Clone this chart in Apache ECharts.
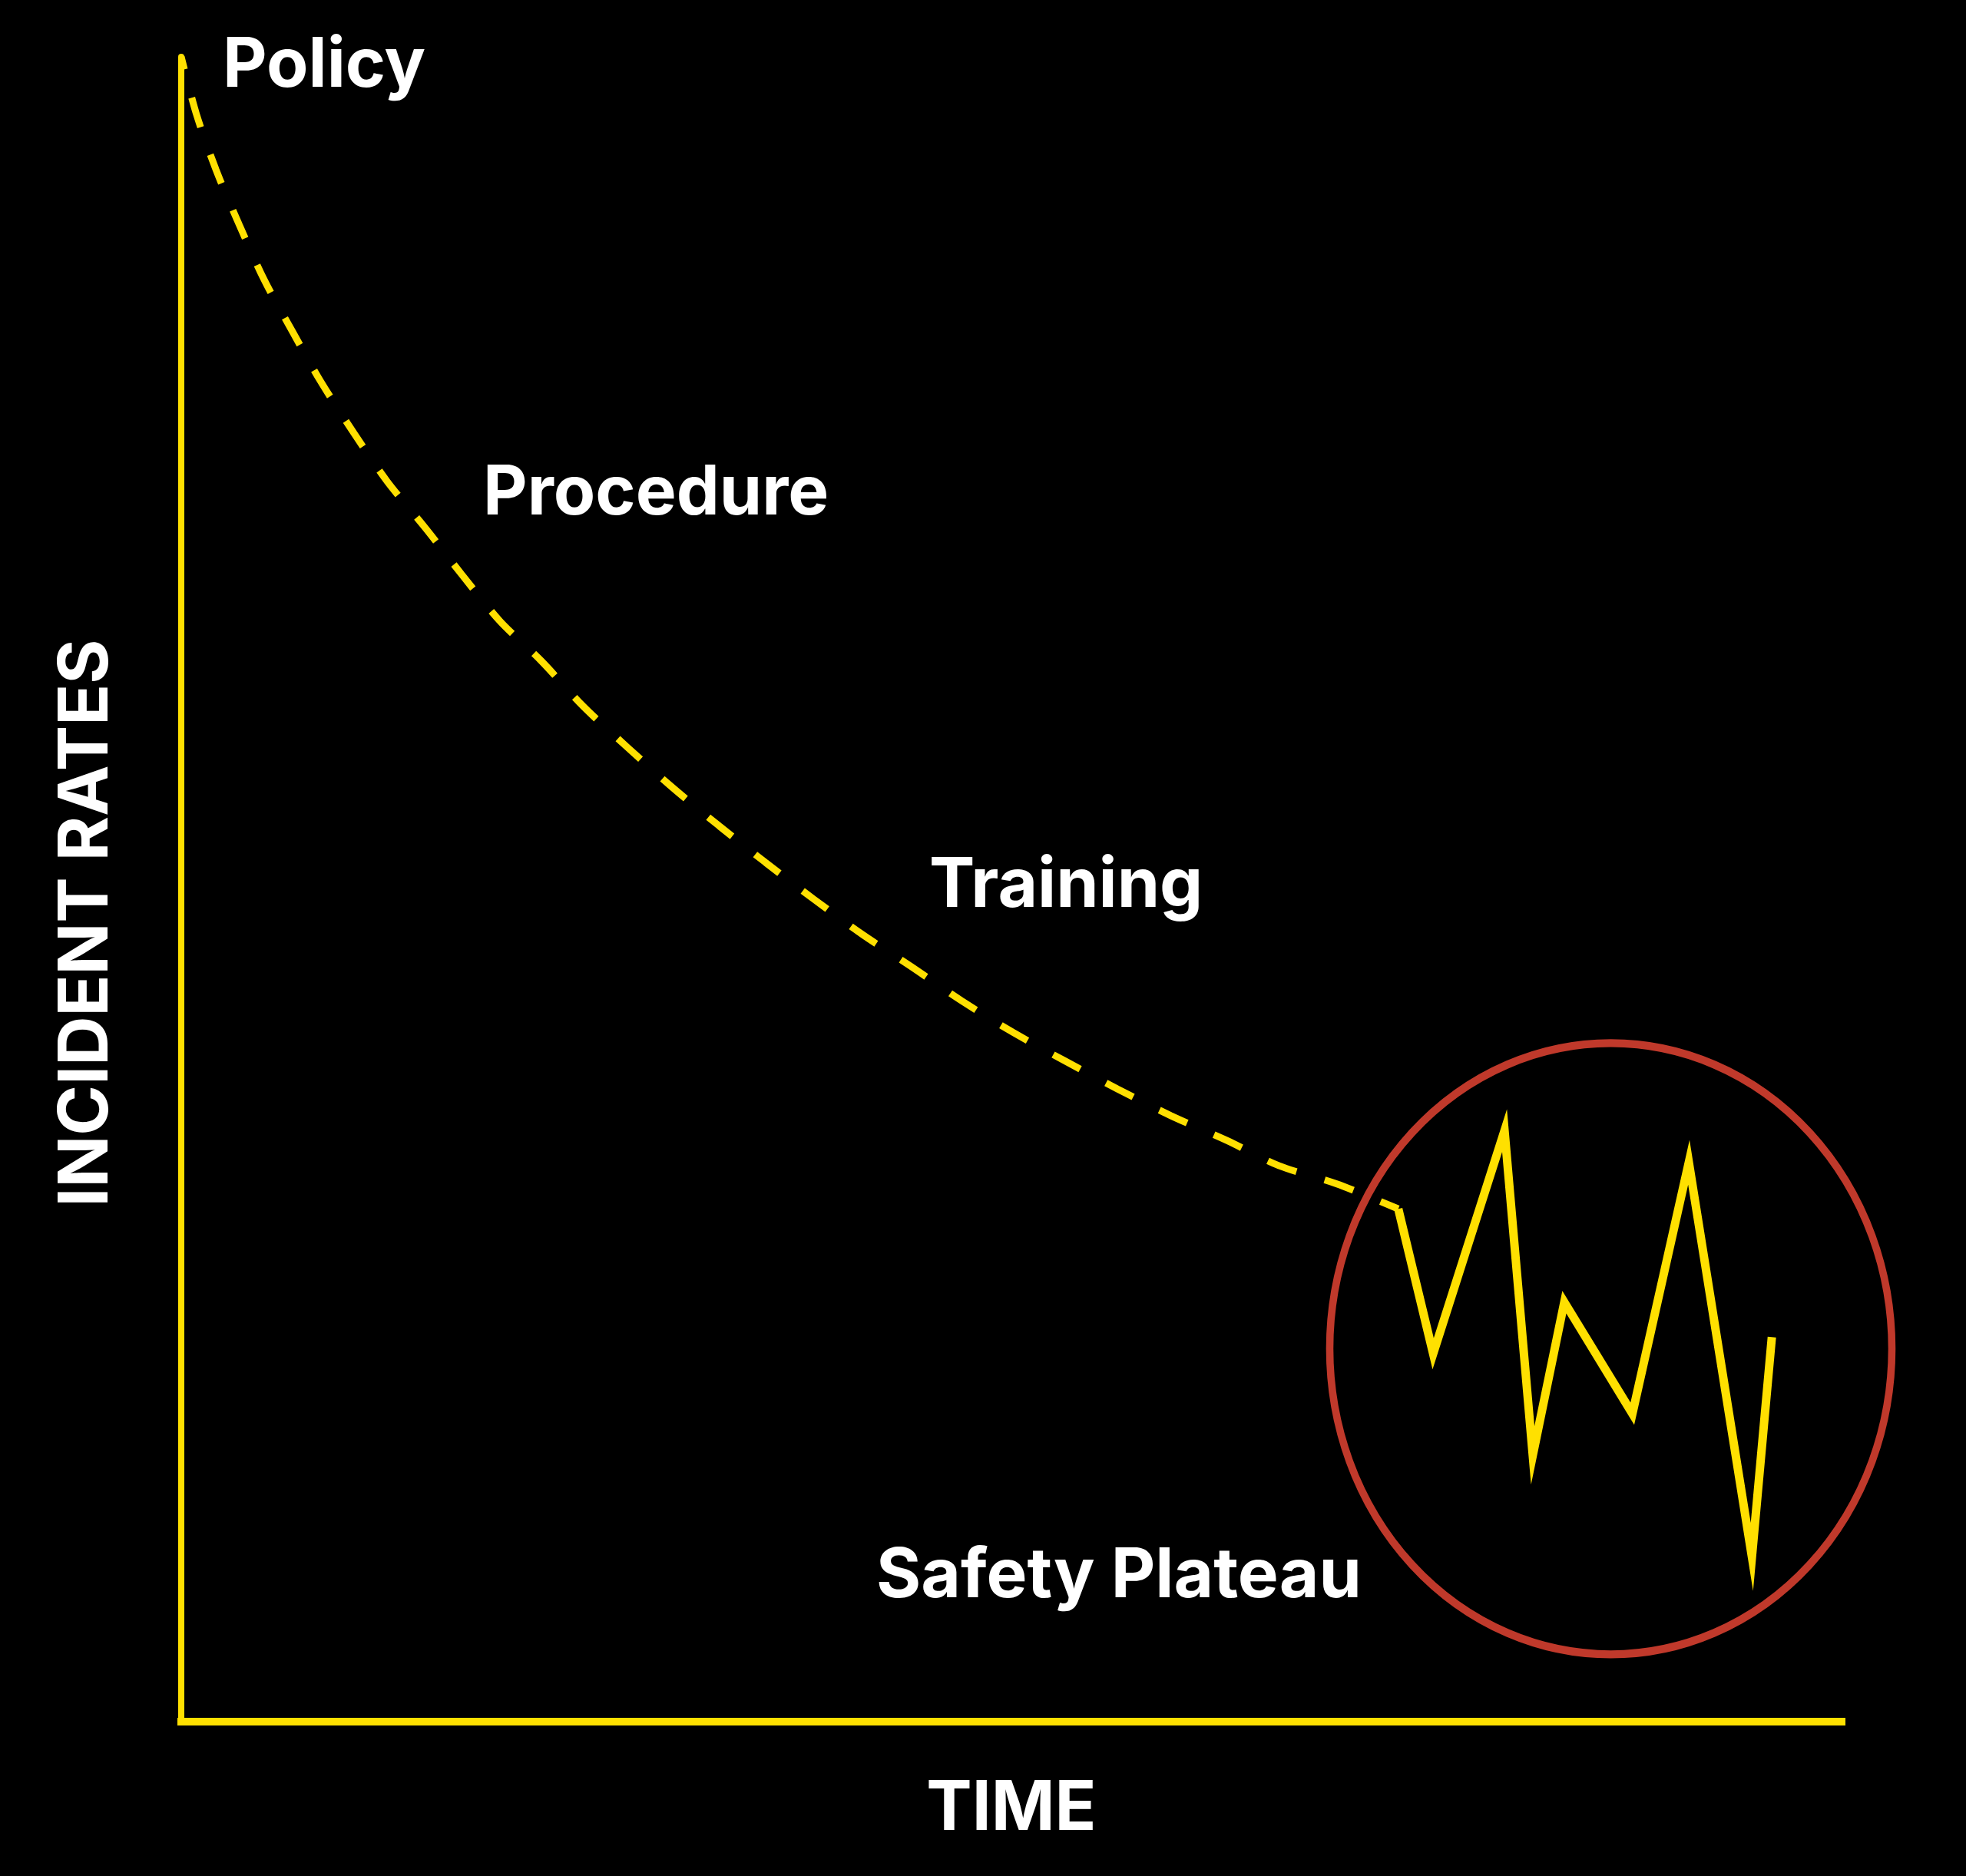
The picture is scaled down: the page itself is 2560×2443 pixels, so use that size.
<!DOCTYPE html>
<html>
<head>
<meta charset="utf-8">
<style>
  html, body { margin: 0; padding: 0; background: #000; }
  #chart { width: 2560px; height: 2443px; }
</style>
<script src="https://cdn.jsdelivr.net/npm/echarts@6/dist/echarts.min.js"></script>
</head>
<body>
<div id="chart"></div>
<script>
// Idealised decline of incident rates over time (dashed)
const declineTime = [0, 0.9, 2.1, 3.5, 5.0, 6.7, 8.4, 10.4, 12.4, 14.7, 16.9, 19.2, 21.7, 24.2, 26.9, 29.6, 32.4, 35.2, 38.1, 41.0, 43.9, 47.0, 50.1, 53.2, 56.4, 59.6, 63.0, 66.1, 69.6, 73.3];
const declineRate = [100, 96.6, 93.2, 89.9, 86.6, 83.5, 80.5, 77.4, 74.5, 71.7, 68.9, 66.1, 63.7, 61.0, 58.5, 56.1, 53.8, 51.6, 49.4, 47.3, 45.4, 43.3, 41.4, 39.7, 38.0, 36.4, 34.9, 33.4, 32.3, 30.8];

// Erratic incident rates on the safety plateau (solid zigzag)
const plateauTime = [73.3, 75.4, 79.7, 81.4, 83.3, 87.4, 90.8, 94.6, 95.8];
const plateauRate = [30.8, 22.1, 35.5, 16.0, 25.2, 18.5, 33.6, 9.9, 23.1];

// Highlight ring around the plateau (centre in data units)
const ringCentre = [86.1, 22.4];

// Text
const stageLabels = ['Policy', 'Procedure', 'Training', 'Safety Plateau'];
const xTitle = 'TIME';
const yTitle = 'INCIDENT RATES';

const YELLOW = '#FFE000';
const RED = '#C0392B';
const FONT = 'Inter, "Noto Sans", Roboto, sans-serif';

const chart = echarts.init(document.getElementById('chart'), null, { renderer: 'canvas' });

const zip = (xs, ys) => xs.map((x, i) => [x, ys[i]]);

const labelPos = [
  [290, 86],
  [629, 643],
  [1210, 1154],
  [1141, 2053]
];

const graphics = stageLabels.map((t, i) => ({
  type: 'text',
  x: labelPos[i][0],
  y: labelPos[i][1],
  z: 10,
  style: {
    text: t,
    fill: '#fff',
    font: 'bold 89px ' + FONT,
    textAlign: 'left',
    textVerticalAlign: 'middle'
  }
}));
graphics.push({
  type: 'text',
  x: 113,
  y: 1202,
  rotation: Math.PI / 2,
  z: 10,
  style: {
    text: yTitle,
    fill: '#fff',
    font: 'bold 89px ' + FONT,
    textAlign: 'center',
    textVerticalAlign: 'middle'
  }
});

chart.setOption({
  backgroundColor: '#000',
  animation: false,
  grid: { left: 236, right: 162, top: 74, bottom: 201, containLabel: false },
  xAxis: {
    type: 'value', min: 0, max: 100,
    name: xTitle, nameLocation: 'middle', nameGap: 70,
    nameTextStyle: { color: '#fff', fontSize: 89, fontWeight: 'bold', fontFamily: FONT },
    axisLine: { show: true, lineStyle: { color: YELLOW, width: 10, cap: 'square' } },
    axisTick: { show: false }, axisLabel: { show: false }, splitLine: { show: false }
  },
  yAxis: {
    type: 'value', min: 0, max: 100,
    axisLine: { show: true, lineStyle: { color: YELLOW, width: 8 } },
    axisTick: { show: false }, axisLabel: { show: false }, splitLine: { show: false }
  },
  series: [
    {
      type: 'scatter',
      z: 1,
      data: [ringCentre],
      symbol: 'circle',
      symbolSize: [732, 796],
      itemStyle: { color: 'rgba(0,0,0,0)', borderColor: RED, borderWidth: 10, opacity: 1 },
      silent: true
    },
    {
      type: 'line',
      z: 3,
      data: zip(declineTime, declineRate),
      smooth: 0.3,
      showSymbol: false,
      lineStyle: { color: YELLOW, width: 9, type: [40, 38], dashOffset: 23, cap: 'butt' },
      silent: true
    },
    {
      type: 'line',
      z: 3,
      data: zip(plateauTime, plateauRate),
      smooth: false,
      showSymbol: false,
      lineStyle: { color: YELLOW, width: 11, join: 'miter', miterLimit: 12 },
      silent: true
    }
  ],
  graphic: graphics
});
</script>
</body>
</html>
